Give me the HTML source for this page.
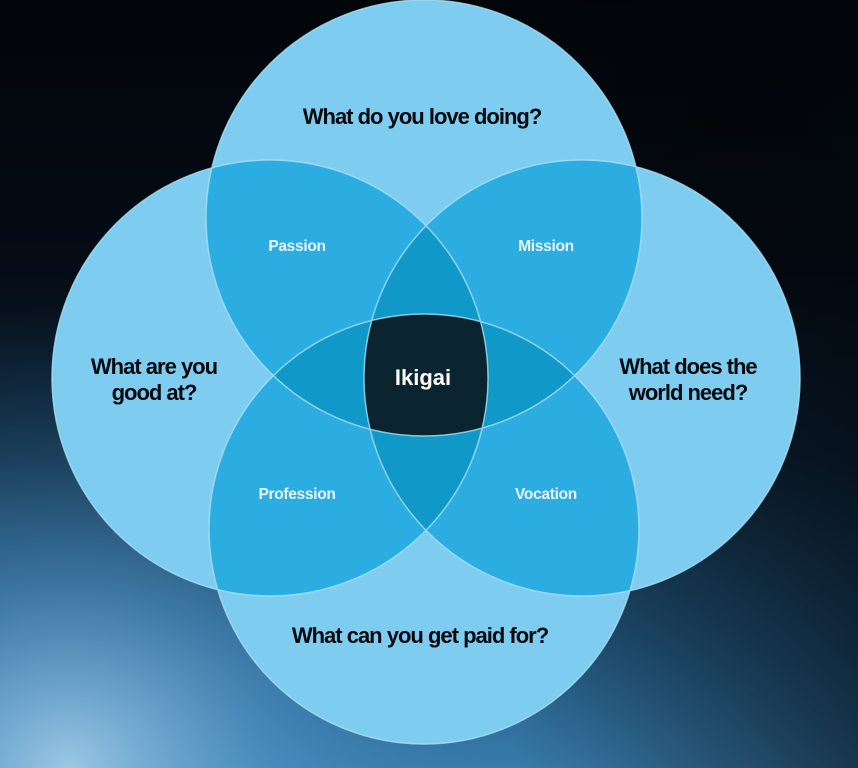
<!DOCTYPE html>
<html><head><style>
html,body{margin:0;padding:0;width:858px;height:768px;overflow:hidden;background:#05080d}
svg{display:block}
text{font-family:"Liberation Sans",Arial,sans-serif;font-weight:bold;text-anchor:middle}
</style></head><body>
<svg width="858" height="768" viewBox="0 0 858 768">
<defs>
<linearGradient id="lg" x1="0" y1="0" x2="0" y2="1">
<stop offset="0" stop-color="#02050a"/>
<stop offset="0.35" stop-color="#050c15"/>
<stop offset="0.6" stop-color="#0d2538"/>
<stop offset="0.85" stop-color="#245a82"/>
<stop offset="1" stop-color="#3a7fb0"/>
</linearGradient>
<radialGradient id="rg" cx="0.08" cy="1.0" r="0.6">
<stop offset="0" stop-color="#a0cbe8" stop-opacity="0.95"/>
<stop offset="0.4" stop-color="#4f92c4" stop-opacity="0.6"/>
<stop offset="1" stop-color="#1f5a86" stop-opacity="0"/>
</radialGradient>
<linearGradient id="rside" x1="0" y1="0" x2="1" y2="0">
<stop offset="0.6" stop-color="#000" stop-opacity="0"/>
<stop offset="1" stop-color="#02060c" stop-opacity="0.6"/>
</linearGradient>
<clipPath id="cT"><circle cx="424" cy="218" r="218"/></clipPath>
<clipPath id="cB"><circle cx="424" cy="529" r="215"/></clipPath>
<clipPath id="cL"><circle cx="270" cy="378" r="218"/></clipPath>
<clipPath id="cR"><circle cx="582" cy="378" r="218"/></clipPath>
</defs>
<rect width="858" height="768" fill="url(#lg)"/>
<rect width="858" height="768" fill="url(#rg)"/>
<rect width="858" height="768" fill="url(#rside)"/>
<g fill="#7ecdf0">
<circle cx="424" cy="218" r="218"/>
<circle cx="424" cy="529" r="215"/>
<circle cx="270" cy="378" r="218"/>
<circle cx="582" cy="378" r="218"/>
</g>
<g fill="#2badE2">
<g clip-path="url(#cT)"><circle cx="270" cy="378" r="218"/><circle cx="582" cy="378" r="218"/></g>
<g clip-path="url(#cB)"><circle cx="270" cy="378" r="218"/><circle cx="582" cy="378" r="218"/></g>
</g>
<g fill="#0f98c8">
<g clip-path="url(#cT)"><circle cx="424" cy="529" r="215"/></g>
<g clip-path="url(#cL)"><circle cx="582" cy="378" r="218"/></g>
</g>
<g clip-path="url(#cT)"><g clip-path="url(#cB)"><g clip-path="url(#cL)"><circle cx="582" cy="378" r="218" fill="#0b2530"/></g></g></g>
<g fill="none" stroke="#a9e0f6" stroke-width="1.5" opacity="0.8">
<circle cx="424" cy="218" r="218"/>
<circle cx="424" cy="529" r="215"/>
<circle cx="270" cy="378" r="218"/>
<circle cx="582" cy="378" r="218"/>
</g>
<g fill="#05080c" font-size="22" letter-spacing="-1">
<text x="422" y="124">What do you love doing?</text>
<text x="154" y="374">What are you</text>
<text x="154" y="400">good at?</text>
<text x="688" y="374">What does the</text>
<text x="688" y="400">world need?</text>
<text x="420" y="643">What can you get paid for?</text>
</g>
<g fill="#eaf6fc" font-size="15.5" letter-spacing="-0.3">
<text x="297" y="251">Passion</text>
<text x="546" y="251">Mission</text>
<text x="297" y="499">Profession</text>
<text x="546" y="499">Vocation</text>
</g>
<text x="423" y="385" fill="#ffffff" font-size="22">Ikigai</text>
</svg>
</body></html>
